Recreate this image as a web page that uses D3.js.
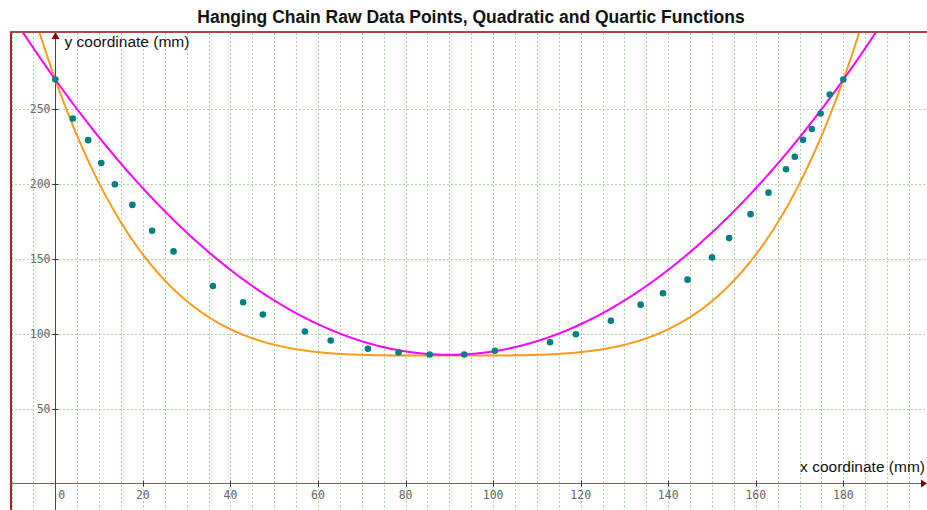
<!DOCTYPE html>
<html>
<head>
<meta charset="utf-8">
<script src="https://cdn.jsdelivr.net/npm/d3@7"></script>
<style>
  body { margin: 0; background: #fff; }
  svg { display: block; font-family: "Liberation Sans", Arial, sans-serif; }
  .tick-label { font-family: "DejaVu Sans Mono", monospace; font-size: 11.5px; fill: #666; }
</style>
</head>
<body>
<svg id="chart" width="927" height="510"></svg>
<script>
// raw chain points (mm)
const chainX = [0, 4, 7.5, 10.5, 13.6, 17.6, 22.1, 27, 36, 42.9, 47.4, 57, 62.9, 71.4, 78.4, 85.5,
  93.4, 100.4, 113, 118.9, 126.9, 133.7, 138.8, 144.4, 150, 153.9, 158.8, 162.9, 166.9, 168.9,
  170.8, 172.8, 174.8, 176.9, 180];
const chainY = [270, 244, 229.5, 214.2, 200, 186.2, 168.9, 155.1, 132, 121.1, 112.9, 101.5, 95.5, 90,
  87.5, 86.2, 86.2, 88.7, 94.4, 99.7, 108.7, 119.5, 127.1, 136.2, 151.1, 164, 180, 194.4, 210, 218.4,
  229.7, 236.9, 247.3, 260, 270];

// fitted polynomial coefficients, lowest power first
const quadCoef = [270, -4.0896, 0.02272];
const quartCoef = [270, -8.200, 0.13666, -1.0123e-3, 2.812e-6];

const xTicks = [0, 20, 40, 60, 80, 100, 120, 140, 160, 180];
const yTicks = [50, 100, 150, 200, 250];

const width = 927, height = 510;
const svg = d3.select('#chart');

const x = d3.scaleLinear().domain([-10.35, 199.1]).range([10, 927]);
const y = d3.scaleLinear().domain([-17.8, 301.8]).range([510, 32]);

function poly (c, v) {
  return c.reduce((s, k, i) => s + k * Math.pow(v, i), 0);
}

svg.append('defs').append('clipPath').attr('id', 'plotClip')
  .append('rect').attr('x', 10).attr('y', 32).attr('width', width - 10).attr('height', height - 32);

// grid
const grid = svg.append('g').attr('stroke', '#b0d4a2').attr('stroke-dasharray', '2,2').attr('stroke-width', 1);
grid.selectAll('line.v').data(d3.range(-10, 200, 5).filter(d => d !== 0))
  .join('line').attr('class', 'v')
  .attr('x1', d => Math.round(x(d)) + 0.5).attr('x2', d => Math.round(x(d)) + 0.5)
  .attr('y1', 33).attr('y2', height);
grid.selectAll('line.h').data(yTicks)
  .join('line').attr('class', 'h')
  .attr('x1', 11).attr('x2', width)
  .attr('y1', d => Math.round(y(d)) + 0.5).attr('y2', d => Math.round(y(d)) + 0.5);

// axes lines
svg.append('line').attr('x1', 10).attr('x2', width - 4)
  .attr('y1', Math.round(y(0)) + 0.5).attr('y2', Math.round(y(0)) + 0.5)
  .attr('stroke', '#b04848').attr('stroke-width', 1);
svg.append('line').attr('x1', Math.round(x(0)) + 0.5).attr('x2', Math.round(x(0)) + 0.5)
  .attr('y1', 36).attr('y2', height)
  .attr('stroke', '#8a2a2a').attr('stroke-width', 1);

// arrows
const ax0 = Math.round(x(0)) + 0.5, ay0 = Math.round(y(0)) + 0.5;
svg.append('path').attr('d', `M${ax0},32 L${ax0 - 4},39 L${ax0 + 4},39 Z`).attr('fill', '#800000');
svg.append('path').attr('d', `M${width},${ay0} L${width - 6},${ay0 - 4} L${width - 6},${ay0 + 4} Z`).attr('fill', '#800000');

// tick marks and labels
const xt = svg.append('g');
xt.selectAll('line').data(xTicks.filter(d => d !== 0)).join('line')
  .attr('x1', d => Math.round(x(d)) + 0.5).attr('x2', d => Math.round(x(d)) + 0.5)
  .attr('y1', ay0 - 3).attr('y2', ay0 + 3).attr('stroke', '#333');
xt.selectAll('text').data(xTicks).join('text')
  .attr('class', 'tick-label')
  .attr('x', d => d === 0 ? x(d) + 6.5 : x(d))
  .attr('y', ay0 + 15)
  .attr('text-anchor', 'middle')
  .text(d => d);

const yt = svg.append('g');
yt.selectAll('line').data(yTicks).join('line')
  .attr('x1', ax0 - 3).attr('x2', ax0 + 3)
  .attr('y1', d => Math.round(y(d)) + 0.5).attr('y2', d => Math.round(y(d)) + 0.5).attr('stroke', '#333');
yt.selectAll('text').data(yTicks).join('text')
  .attr('class', 'tick-label')
  .attr('x', ax0 - 5)
  .attr('y', d => y(d) + 4)
  .attr('text-anchor', 'end')
  .text(d => d);

// curves
const samples = d3.range(-10.4, 199.2, 0.25);
const line = d3.line().x(d => x(d[0])).y(d => y(d[1]));
const curves = svg.append('g').attr('clip-path', 'url(#plotClip)').attr('fill', 'none').attr('stroke-width', 2);
curves.append('path').datum(samples.map(v => [v, poly(quartCoef, v)]))
  .attr('d', line).attr('stroke', '#ff9a1e');
curves.append('path').datum(samples.map(v => [v, poly(quadCoef, v)]))
  .attr('d', line).attr('stroke', '#ff00ff');

// raw points
svg.append('g').selectAll('circle').data(chainX).join('circle')
  .attr('cx', d => x(d)).attr('cy', (d, i) => y(chainY[i]))
  .attr('r', 3.3).attr('fill', '#008080');

// frame
svg.append('line').attr('x1', 10).attr('x2', width).attr('y1', 32).attr('y2', 32)
  .attr('stroke', '#a84848').attr('stroke-width', 2);
svg.append('line').attr('x1', 11).attr('x2', 11).attr('y1', 32).attr('y2', height)
  .attr('stroke', '#a02828').attr('stroke-width', 2);

// labels
svg.append('text').attr('x', 471).attr('y', 23).attr('text-anchor', 'middle')
  .attr('font-size', 17.5).attr('font-weight', 'bold').attr('fill', '#111')
  .text('Hanging Chain Raw Data Points, Quadratic and Quartic Functions');
svg.append('text').attr('x', ax0 + 9).attr('y', 47)
  .attr('font-size', 15.5).attr('fill', '#111').text('y coordinate (mm)');
svg.append('text').attr('x', width - 2).attr('y', 472).attr('text-anchor', 'end')
  .attr('font-size', 15.5).attr('fill', '#111').text('x coordinate (mm)');
</script>
</body>
</html>
